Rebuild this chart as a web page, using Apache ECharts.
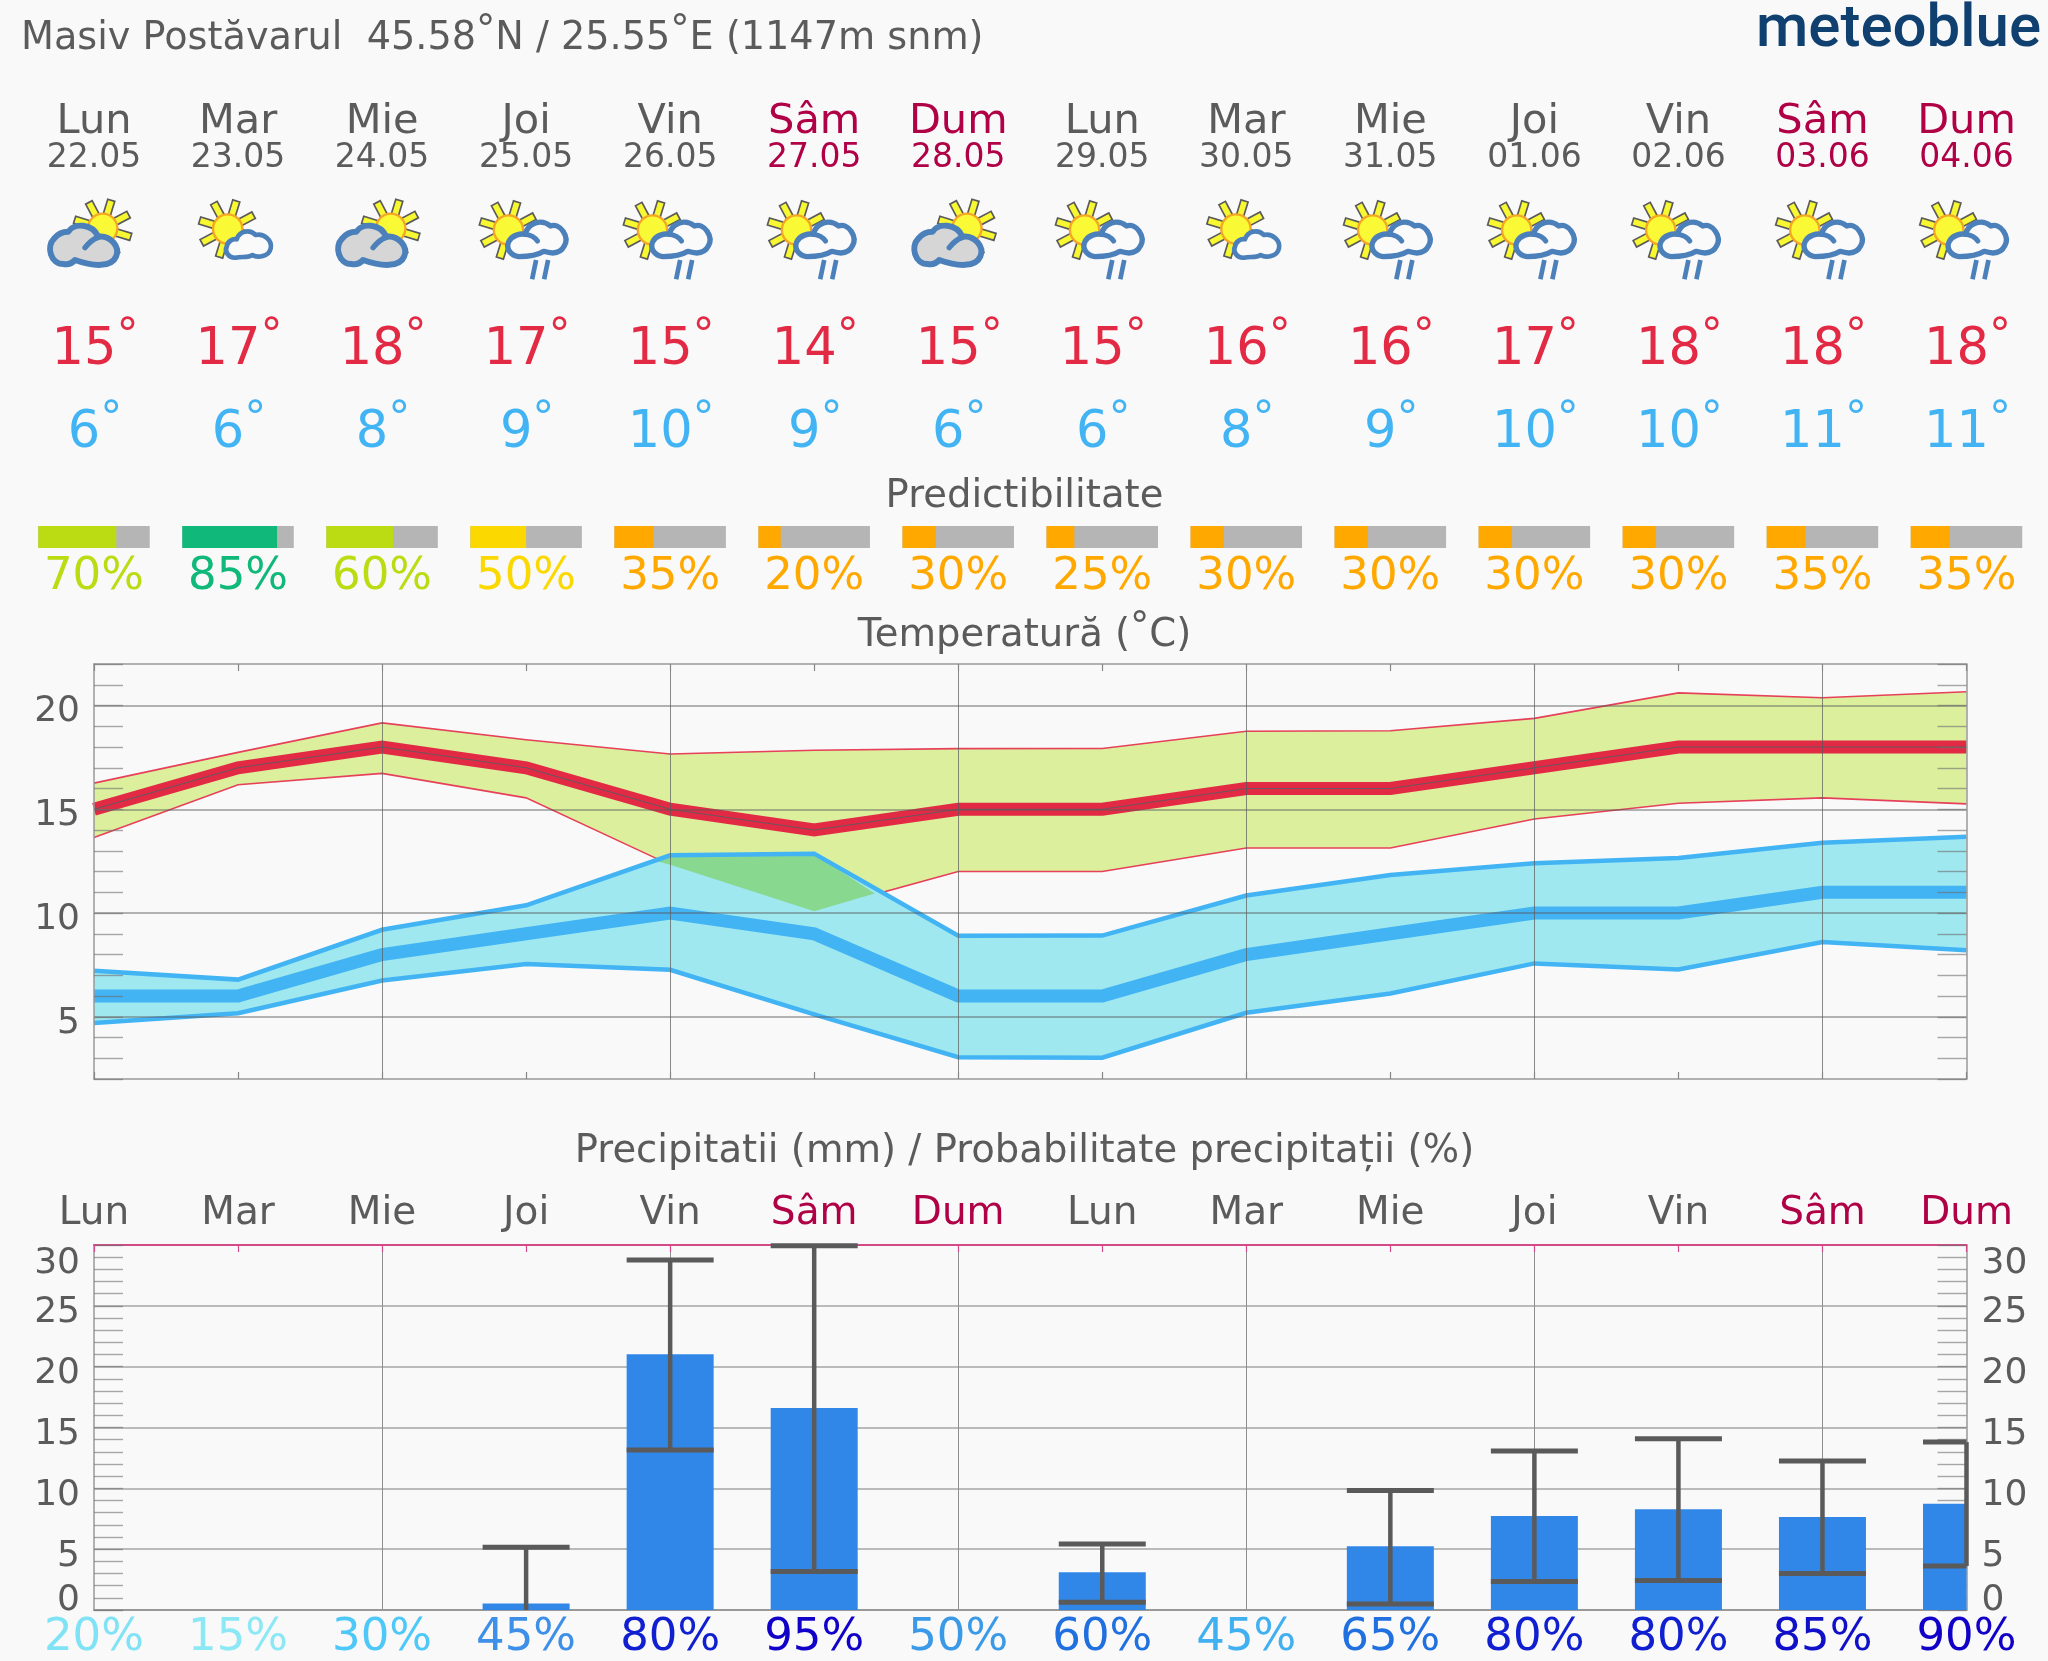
<!DOCTYPE html>
<html><head><meta charset="utf-8">
<style>html,body{margin:0;padding:0;background:#f9f9f9}#c{width:2048px;height:1661px}</style>
<script src="https://cdn.jsdelivr.net/npm/echarts@6/dist/echarts.min.js"></script>
</head><body><div id="c"></div>
<script>
const dayNames=['Lun','Mar','Mie','Joi','Vin','Sâm','Dum','Lun','Mar','Mie','Joi','Vin','Sâm','Dum'];
const dates=['22.05','23.05','24.05','25.05','26.05','27.05','28.05','29.05','30.05','31.05','01.06','02.06','03.06','04.06'];
const icons=['A','B','A','C','C','C','A','C','B','C','C','C','C','C'];
const tempHigh=[15,17,18,17,15,14,15,15,16,16,17,18,18,18];
const tempLow=[6,6,8,9,10,9,6,6,8,9,10,10,11,11];
const predictability=[70,85,60,50,35,20,30,25,30,30,30,30,35,35];
const predColors=['#bbdc12','#10b87a','#bbdc12','#fbd800','#ffa800','#ffa800','#ffa800','#ffa800','#ffa800','#ffa800','#ffa800','#ffa800','#ffa800','#ffa800'];
const redUpper=[16.26,17.74,19.16,18.35,17.66,17.84,17.92,17.93,18.76,18.78,19.38,20.61,20.37,20.66];
const redLower=[13.64,16.18,16.73,15.55,12.32,10.09,12.0,12.0,13.13,13.13,14.53,15.29,15.55,15.26];
const blueUpper=[7.22,6.79,9.19,10.37,12.78,12.86,8.9,8.91,10.84,11.83,12.4,12.65,13.39,13.68];
const blueLower=[4.7,5.17,6.75,7.54,7.26,5.11,3.05,3.03,5.19,6.12,7.57,7.28,8.6,8.21];
const overlapX=[3.896,4,5,5.42,5,4];
const overlapY=[12.52,12.78,12.86,10.94,10.09,12.32];
const precip=[0,0,0,0.53,21.03,16.6,0,3.1,0,5.25,7.73,8.29,7.65,8.73];
const precipHigh=[null,null,null,5.15,28.77,29.93,null,5.42,null,9.82,13.07,14.07,12.24,13.8];
const precipLow=[null,null,null,0,13.16,3.17,null,0.64,null,0.5,2.34,2.42,3.0,3.62];
const precipProb=[20,15,30,45,80,95,50,60,45,65,80,80,85,90];
const probColors=['#7fe3f5','#8ce8f5','#4dc8f8','#3d8fe8','#1020d0','#1000c8','#3a9ae8','#2070e0','#40b0f0','#2070e0','#1020d0','#1020d0','#1010c8','#1000c8'];
const tempTicks=[5,10,15,20];
const precipTicks=[5,10,15,20,25];
const precipLabels=[0,5,10,15,20,25,30];
const evenDays=[2,4,6,8,10,12];

const FONT='"DejaVu Sans"', GREY='#5b5b5b', WEEKEND='#b00046', RED='#e22a44', BLUE='#42b4f4';
const L=94, W=1872.5;
const isWeekend=i=>dayNames[i]==='Sâm'||dayNames[i]==='Dum';
const idx=dayNames.map((_,i)=>[i]);
const dayColor=i=>isWeekend(i)?WEEKEND:GREY;

function textRow(labels,y,size,color){
  return {type:'custom',xAxisIndex:0,yAxisIndex:0,silent:true,clip:false,z:3,data:idx,
    renderItem(p,api){const i=api.value(0),c=api.coord([i,y]);
      return {type:'text',x:c[0],y:c[1],style:{text:labels[i],fill:color(i),fontFamily:FONT,fontSize:size,align:'center',verticalAlign:'middle'}};}};
}
function degreeRow(vals,y,color){
  return {type:'custom',xAxisIndex:0,yAxisIndex:0,silent:true,clip:false,z:3,data:idx,
    renderItem(p,api){const i=api.value(0),c=api.coord([i,y]);
      return {type:'text',x:c[0]+1,y:c[1],style:{text:'{n|'+vals[i]+'}{d|°}',fill:color,fontFamily:FONT,align:'center',verticalAlign:'middle',
        rich:{n:{fontFamily:FONT,fontSize:51,fill:color,lineHeight:70},d:{fontFamily:FONT,fontSize:44,fill:color,verticalAlign:'top',lineHeight:46}}}};}};
}
// y-axis tick labels, placed through the axis scale
function yLabels(vals,xa,ya,side,dy){
  return {type:'custom',xAxisIndex:xa,yAxisIndex:ya,silent:true,clip:false,z:9,data:vals.map(v=>[0,v]),
    renderItem(p,api){const v=api.value(1),c=api.coord([0,v]),cs=p.coordSys,left=side==='left';
      return {type:'text',x:left?cs.x-14:cs.x+cs.width+15,y:c[1]+dy(v),style:{text:String(v),fill:GREY,fontFamily:FONT,fontSize:36,align:left?'right':'left',verticalAlign:'middle'}};}};
}
function iconChildren(type){
  const kids=[];
  const sun={A:[218,145],B:[161,147],C:[139,150]}[type];
  for(let k=0;k<8;k++){
    const a=(28+45*k)*Math.PI/180,ux=Math.cos(a),uy=-Math.sin(a),nx=-uy,ny=ux,w=11;
    const p=(r,s)=>[sun[0]+ux*r+nx*s*w,sun[1]+uy*r+ny*s*w];
    kids.push({type:'polygon',shape:{points:[p(40,-1),p(88,-1),p(88,1),p(40,1)]},style:{fill:'#f8f832',stroke:'#5a5a5a',lineWidth:5}});
  }
  kids.push({type:'circle',shape:{cx:sun[0],cy:sun[1],r:44},style:{fill:'#f9f935',stroke:'#f5a623',lineWidth:7}});
  const st={stroke:'#4b80bb',lineCap:'round',lineJoin:'round'};
  if(type==='A'){
    kids.push({type:'path',shape:{pathData:'M100 252C62 252 48 200 72 176C84 160 102 155 115 155C132 128 186 130 205 170C240 165 272 200 258 230C245 262 190 260 135 240C125 252 112 254 100 252Z'},style:{...st,fill:'#d6d6d6',lineWidth:18}});
    kids.push({type:'path',shape:{pathData:'M165 203C178 186 192 176 205 172'},style:{...st,fill:null,lineWidth:16}});
  }else if(type==='B'){
    kids.push({type:'path',shape:{pathData:'M185 233C165 235 150 215 158 200C160 185 175 175 188 178C195 155 225 145 245 165C270 160 295 180 290 205C285 230 250 235 235 225C220 235 205 228 185 233Z'},style:{...st,fill:'#fafafa',lineWidth:14}});
  }else{
    kids.push({type:'path',shape:{pathData:'M170 230C145 227 130 205 140 185C150 165 175 160 190 163C195 133 235 113 265 138C295 128 322 170 307 197C295 222 270 222 245 214C225 227 195 230 170 230Z'},style:{...st,fill:'#fafafa',lineWidth:16}});
    kids.push({type:'path',shape:{pathData:'M190 163C205 165 218 172 226 183'},style:{...st,fill:null,lineWidth:15}});
    kids.push({type:'line',shape:{x1:222,y1:240,x2:210,y2:298},style:{stroke:'#4b80bb',lineWidth:14}});
    kids.push({type:'line',shape:{x1:258,y1:240,x2:246,y2:298},style:{stroke:'#4b80bb',lineWidth:14}});
  }
  return kids;
}
const pts=arr=>arr.map((v,i)=>[i,v]);
function band(up,lo,fill,z){
  return {type:'custom',xAxisIndex:1,yAxisIndex:1,silent:true,z,data:[[0]],
    renderItem(p,api){
      const top=up.map((v,i)=>api.coord([i,v])),bot=lo.map((v,i)=>api.coord([i,v])).reverse();
      return {type:'polygon',shape:{points:top.concat(bot)},style:{fill}};}};
}
function tline(arr,color,width,z){
  return {type:'line',xAxisIndex:1,yAxisIndex:1,silent:true,z,data:pts(arr),showSymbol:false,symbol:'none',lineStyle:{color,width,join:'miter',cap:'butt'}};
}
function gridLines(xa,ya,hs,z,hCol,vCol){
  return [
   {type:'line',xAxisIndex:xa,yAxisIndex:ya,data:[],silent:true,z,markLine:{silent:true,z,symbol:'none',animation:false,label:{show:false},lineStyle:{type:'solid',color:hCol,width:1.6},data:hs.map(v=>({yAxis:v}))}},
   {type:'line',xAxisIndex:xa,yAxisIndex:ya,data:[],silent:true,z,markLine:{silent:true,z,symbol:'none',animation:false,label:{show:false},lineStyle:{type:'solid',color:vCol,width:1},data:evenDays.map(v=>({xAxis:v}))}}
  ];
}
function xA(grid,pos,lineColor,lw,tickColor,z){return {gridIndex:grid,type:'value',position:pos,min:0,max:13,interval:1,z,
  axisLine:{show:true,onZero:false,lineStyle:{color:lineColor,width:lw}},axisTick:{show:!!tickColor,inside:true,length:7,lineStyle:{color:tickColor||'#888',width:1.2}},axisLabel:{show:false},splitLine:{show:false}};}
function yA(grid,pos,min,max,z){return {gridIndex:grid,type:'value',position:pos,min,max,interval:1,z,
  axisLine:{show:true,onZero:false,lineStyle:{color:'#999',width:1.5}},axisTick:{show:true,inside:true,length:29,lineStyle:{color:'rgba(110,110,110,.6)',width:1.4}},
  axisLabel:{show:false},splitLine:{show:false}};}

const titleRich={d:{fontFamily:FONT,fontSize:38.6,color:GREY,verticalAlign:'top',lineHeight:38}};
const chart=echarts.init(document.getElementById('c'),null,{renderer:'canvas'});
const precipDy=v=>v===30?19:(v===0?-9:7);
chart.setOption({
 animation:false,backgroundColor:'#f9f9f9',
 title:[
  {left:16,top:7,text:'Masiv Postăvarul  45.58{d|°}N / 25.55{d|°}E (1147m snm)',textStyle:{fontFamily:FONT,fontSize:38.2,lineHeight:54,fontWeight:'normal',color:GREY,rich:titleRich}},
  {left:1751,top:-4,textAlign:'left',text:'meteoblue',textStyle:{fontFamily:'Roboto',fontSize:60,fontWeight:500,color:'#0f4070'}},
  {left:1019.5,top:472,textAlign:'center',text:'Predictibilitate',textStyle:{fontFamily:FONT,fontSize:38.6,fontWeight:'normal',color:GREY}},
  {left:1019.5,top:604,textAlign:'center',text:'Temperatură ({d|°}C)',textStyle:{fontFamily:FONT,fontSize:38.6,lineHeight:54,fontWeight:'normal',color:GREY,rich:titleRich}},
  {left:1019.5,top:1127,textAlign:'center',text:'Precipitatii (mm) / Probabilitate precipitații (%)',textStyle:{fontFamily:FONT,fontSize:38.6,fontWeight:'normal',color:GREY}}
 ],
 grid:[
  {left:L,width:W,top:0,height:1661,containLabel:false},
  {left:L,width:W,top:664,height:415},
  {left:L,width:W,top:1245,height:365}
 ],
 xAxis:[
  {gridIndex:0,type:'value',min:0,max:13,show:false},
  xA(1,'bottom','#999',1.5,'#888',9),
  xA(1,'top','#999',1.5,'#888',9),
  xA(2,'bottom','#999',1.8,null,1),
  xA(2,'top','#d24b86',2,'#d24b86',1)
 ],
 yAxis:[
  {gridIndex:0,type:'value',min:0,max:1661,inverse:true,show:false},
  yA(1,'left',2,22,9),
  yA(1,'right',2,22,9),
  yA(2,'left',0,30,1),
  yA(2,'right',0,30,1)
 ],
 series:[
  textRow(dayNames,122,41.5,dayColor),
  textRow(dates,158,33,dayColor),
  {type:'custom',xAxisIndex:0,yAxisIndex:0,silent:true,clip:false,z:3,data:idx,
   renderItem(p,api){const i=api.value(0),c=api.coord([i,0]);
     return {type:'group',x:c[0]-64,y:0,children:[{type:'group',x:0,y:180,scaleX:1/3,scaleY:1/3,children:iconChildren(icons[i])}]};}},
  degreeRow(tempHigh,351,RED),
  degreeRow(tempLow,434,BLUE),
  {type:'custom',xAxisIndex:0,yAxisIndex:0,silent:true,clip:false,z:3,data:idx,
   renderItem(p,api){const i=api.value(0),a=api.coord([i-0.387,526]),b=api.coord([i+0.387,548]),w=b[0]-a[0],h=b[1]-a[1],f=predictability[i]/100;
     return {type:'group',children:[
       {type:'rect',shape:{x:a[0],y:a[1],width:w,height:h},style:{fill:'#b5b5b5'}},
       {type:'rect',shape:{x:a[0],y:a[1],width:w*f,height:h},style:{fill:predColors[i]}}]};}},
  textRow(predictability.map(v=>v+'%'),577.5,45,i=>predColors[i]),
  textRow(dayNames,1213.5,39,dayColor),
  textRow(precipProb.map(v=>v+'%'),1638,45,i=>probColors[i]),
  yLabels(tempTicks,1,1,'left',()=>6.5),
  yLabels(precipLabels,3,3,'left',precipDy),
  yLabels(precipLabels,3,4,'right',precipDy),
  // temperature panel
  tline(redUpper,'#e6405a',1.6,2),
  tline(redLower,'#e6405a',1.6,2),
  band(redUpper,redLower,'#dbef9d',2),
  band(blueUpper,blueLower,'#9fe8f0',3),
  {type:'custom',xAxisIndex:1,yAxisIndex:1,silent:true,z:4,data:[[0]],
   renderItem(p,api){return {type:'polygon',shape:{points:overlapX.map((x,i)=>api.coord([x,overlapY[i]]))},style:{fill:'#88d890'}};}},
  tline(blueUpper,BLUE,4.5,5),
  tline(blueLower,BLUE,4.5,5),
  tline(tempLow,BLUE,13,6),
  tline(tempHigh,RED,13,6),
  tline(tempHigh,'#6d5560',1.2,7),
  ...gridLines(1,1,tempTicks,8,'rgba(90,90,90,.6)','rgba(90,90,90,.7)'),
  // precipitation panel
  ...gridLines(3,3,precipTicks,1,'#a4a4a4','#8e8e8e'),
  {type:'custom',xAxisIndex:3,yAxisIndex:3,silent:true,clip:false,z:4,data:pts(precip),
   renderItem(p,api){const x=api.value(0),v=api.value(1);if(!v)return null;
     const t=api.coord([x,v]),b=api.coord([x,0]),R=p.coordSys.x+p.coordSys.width,x0=t[0]-43.5,x1=Math.min(t[0]+43.5,R);
     return {type:'rect',shape:{x:x0,y:t[1],width:x1-x0,height:b[1]-t[1]},style:{fill:'#3087e8'}};}},
  {type:'custom',xAxisIndex:3,yAxisIndex:3,silent:true,clip:false,z:5,data:idx,
   renderItem(p,api){const i=api.value(0);if(precipHigh[i]==null)return null;
     const t=api.coord([i,precipHigh[i]]),b=api.coord([i,precipLow[i]]),R=p.coordSys.x+p.coordSys.width,x0=t[0]-43.5,x1=Math.min(t[0]+43.5,R);
     const kids=[{type:'rect',shape:{x:t[0]-2.25,y:t[1],width:4.5,height:b[1]-t[1]},style:{fill:'#5a5a5a'}},
       {type:'rect',shape:{x:x0,y:t[1]-2.5,width:x1-x0,height:5},style:{fill:'#5a5a5a'}}];
     if(precipLow[i]>0)kids.push({type:'rect',shape:{x:x0,y:b[1]-2.5,width:x1-x0,height:5},style:{fill:'#5a5a5a'}});
     return {type:'group',children:kids};}}
 ]
});
</script></body></html>
